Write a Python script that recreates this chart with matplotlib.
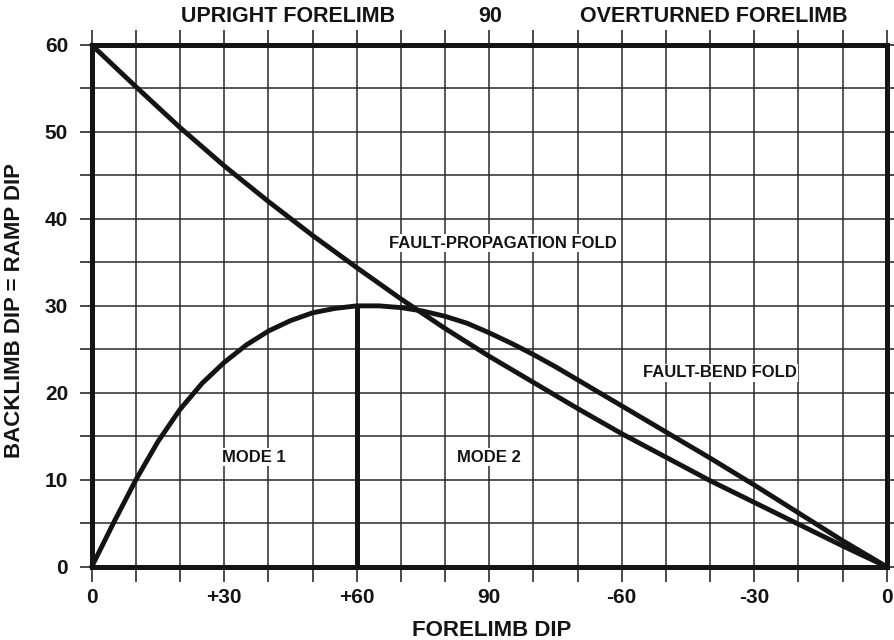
import matplotlib.pyplot as plt

plt.rcParams['font.family'] = ['Liberation Sans', 'DejaVu Sans']
plt.rcParams['font.weight'] = 'bold'

# forelimb dip on a 0..180 scale (0 -> +90 -> 0 overturned)
fbf_x = [0, 5, 10, 15, 20, 25, 30, 35, 40, 45, 50, 55, 60, 65, 70, 75, 80, 85, 90,
         95, 100, 105, 110, 115, 120, 125, 130, 140, 150, 160, 170, 180]
fbf_y = [0, 5.1, 10.0, 14.4, 18.1, 21.1, 23.5, 25.5, 27.1, 28.3, 29.2, 29.7, 30.0, 30.0, 29.8, 29.4, 28.8, 28.0, 26.9,
         25.7, 24.4, 23.0, 21.5, 20.0, 18.5, 17.0, 15.5, 12.5, 9.4, 6.2, 3.0, 0]

fpf_x = [0, 10, 20, 30, 40, 50, 60, 70, 80, 90, 100, 110, 120, 130, 140, 150, 160, 170, 180]
fpf_y = [60, 55.2, 50.5, 46.1, 42.0, 38.1, 34.4, 30.8, 27.4, 24.2, 21.2, 18.2, 15.3, 12.6, 9.9, 7.4, 4.9, 2.4, 0]

mode_x = [60, 60]
mode_y = [0, 30]

xtick_pos = [0, 30, 60, 90, 120, 150, 180]
xtick_lab = ['0', '+30', '+60', '90', '-60', '-30', '0']
ytick_pos = [0, 10, 20, 30, 40, 50, 60]

ink = '#141414'

fig = plt.figure(figsize=(8.95, 6.4), dpi=100)
ax = fig.add_axes([0.1025, 0.1145, 0.8882, 0.8152])

ax.set_xlim(0, 180)
ax.set_ylim(0, 60)

ax.set_xticks(range(0, 181, 10))
ax.set_xticklabels([xtick_lab[xtick_pos.index(v)] if v in xtick_pos else '' for v in range(0, 181, 10)])
ax.set_yticks(range(0, 61, 5))
ax.set_yticklabels([str(v) if v in ytick_pos else '' for v in range(0, 61, 5)])
ax.tick_params(axis='both', direction='out', length=11, width=1.2, color='#2a2a2a',
               labelsize=15, top=True, right=True, labelcolor=ink)
ax.tick_params(axis='x', pad=4)
ax.tick_params(axis='y', length=9, pad=8)
ax.grid(True, color='#2a2a2a', linewidth=1.1)

for s in ax.spines.values():
    s.set_linewidth(3.6)
    s.set_color(ink)

ax.plot(fpf_x, fpf_y, color=ink, linewidth=3.5, solid_capstyle='round', solid_joinstyle='round',
        clip_on=False, zorder=5)
ax.plot(fbf_x, fbf_y, color=ink, linewidth=3.5, solid_capstyle='round', solid_joinstyle='round',
        clip_on=False, zorder=5)
ax.plot(mode_x, mode_y, color=ink, linewidth=3.6, zorder=5)

ax.set_xlabel('FORELIMB DIP', fontsize=16, fontweight='bold', color=ink)
ax.xaxis.set_label_coords(0.503, -0.102)
ax.set_ylabel('BACKLIMB DIP = RAMP DIP', fontsize=16, fontweight='bold', color=ink)
ax.yaxis.set_label_coords(-0.084, 0.492)

fig.text(288 / 895, 1 - 16 / 640, 'UPRIGHT FORELIMB', ha='center', va='center', fontsize=15.5,
         fontweight='bold', color=ink)
fig.text(490 / 895, 1 - 16 / 640, '90', ha='center', va='center', fontsize=15.5, fontweight='bold', color=ink)
fig.text(714 / 895, 1 - 16 / 640, 'OVERTURNED FORELIMB', ha='center', va='center', fontsize=15.5,
         fontweight='bold', color=ink)

box = dict(facecolor='white', edgecolor='none', pad=1)
ax.text(93.0, 37.2, 'FAULT-PROPAGATION FOLD', ha='center', va='center', fontsize=12, fontweight='bold',
        color=ink, bbox=box, zorder=6)
ax.text(142.2, 22.3, 'FAULT-BEND FOLD', ha='center', va='center', fontsize=12, fontweight='bold',
        color=ink, bbox=box, zorder=6)
ax.text(36.7, 12.6, 'MODE 1', ha='center', va='center', fontsize=12, fontweight='bold',
        color=ink, bbox=box, zorder=6)
ax.text(90.0, 12.6, 'MODE 2', ha='center', va='center', fontsize=12, fontweight='bold',
        color=ink, bbox=box, zorder=6)

plt.savefig('out.png', dpi=100)
